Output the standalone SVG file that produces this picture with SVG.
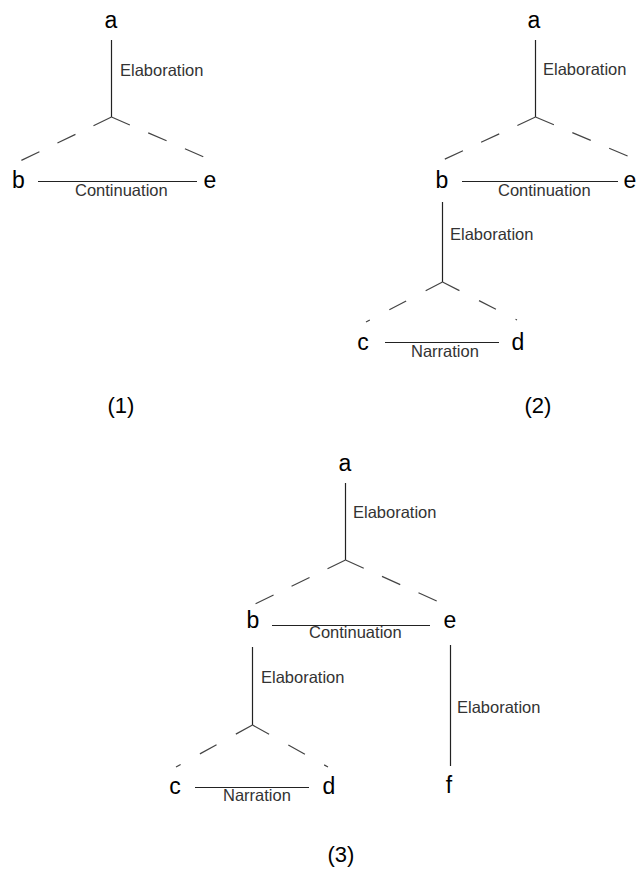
<svg xmlns="http://www.w3.org/2000/svg" width="638" height="879" viewBox="0 0 638 879">
<style>
.n{font-family:"Liberation Sans",Arial,sans-serif;font-size:23px;fill:#000;text-anchor:middle}
.l{font-family:"Liberation Sans",Arial,sans-serif;font-size:16.5px;fill:#333}
.cap{font-family:"Liberation Sans",Arial,sans-serif;font-size:22px;fill:#000;text-anchor:middle}
.e{stroke:#222;stroke-width:1.2;fill:none}
.d{stroke:#444;stroke-width:1.2;fill:none;stroke-dasharray:20 20}
</style>
<rect width="638" height="879" fill="#fff"/>
<g id="connectors">
  <!-- Diagram 1 -->
  <line class="e" x1="111.5" y1="40" x2="111.5" y2="117"/>
  <line class="d" x1="111.5" y1="117" x2="20" y2="161"/>
  <line class="d" x1="111.5" y1="117" x2="204" y2="157"/>
  <line class="e" x1="38" y1="181.5" x2="197" y2="181.5"/>
  <text class="l" x="120" y="76">Elaboration</text>
  <text class="l" x="75" y="196">Continuation</text>
  <!-- Diagram 2 -->
  <line class="e" x1="535.5" y1="40" x2="535.5" y2="117"/>
  <line class="d" x1="535.5" y1="117" x2="443" y2="160"/>
  <line class="d" x1="535.5" y1="117" x2="630" y2="157"/>
  <line class="e" x1="462" y1="181.5" x2="618" y2="181.5"/>
  <text class="l" x="543" y="75">Elaboration</text>
  <text class="l" x="498" y="196">Continuation</text>
  <line class="e" x1="442.5" y1="202" x2="442.5" y2="282"/>
  <line class="d" x1="442.5" y1="282" x2="366" y2="322" style="stroke-dasharray:19 22"/>
  <line class="d" x1="442.5" y1="282" x2="517" y2="320" style="stroke-dasharray:19 22"/>
  <line class="e" x1="385" y1="342.5" x2="499" y2="342.5"/>
  <text class="l" x="450" y="240">Elaboration</text>
  <text class="l" x="411" y="357">Narration</text>
  <!-- Diagram 3 -->
  <line class="e" x1="345.5" y1="483" x2="345.5" y2="560"/>
  <line class="d" x1="345.5" y1="560" x2="253" y2="605"/>
  <line class="d" x1="345.5" y1="560" x2="439" y2="602"/>
  <line class="e" x1="272" y1="625.5" x2="430" y2="625.5"/>
  <text class="l" x="353" y="518">Elaboration</text>
  <text class="l" x="309" y="638">Continuation</text>
  <line class="e" x1="252.5" y1="647" x2="252.5" y2="725"/>
  <line class="d" x1="252.5" y1="725" x2="176" y2="767" style="stroke-dasharray:19 22"/>
  <line class="d" x1="252.5" y1="725" x2="328" y2="767" style="stroke-dasharray:19 22"/>
  <line class="e" x1="195" y1="787.5" x2="309" y2="787.5"/>
  <text class="l" x="261" y="683">Elaboration</text>
  <text class="l" x="223" y="801">Narration</text>
  <line class="e" x1="450.5" y1="645" x2="450.5" y2="766"/>
  <text class="l" x="457" y="713">Elaboration</text>
</g>
<g id="d1-a"><text class="n" x="111" y="28">a</text></g>
<g id="d1-b"><text class="n" x="18.5" y="188">b</text></g>
<g id="d1-e"><text class="n" x="210" y="188">e</text></g>
<g id="d2-a"><text class="n" x="534" y="28">a</text></g>
<g id="d2-b"><text class="n" x="442" y="188">b</text></g>
<g id="d2-e"><text class="n" x="630" y="188">e</text></g>
<g id="d2-c"><text class="n" x="363" y="350">c</text></g>
<g id="d2-d"><text class="n" x="518" y="350">d</text></g>
<g id="d3-a"><text class="n" x="345" y="471">a</text></g>
<g id="d3-b"><text class="n" x="253" y="628">b</text></g>
<g id="d3-e"><text class="n" x="450" y="628">e</text></g>
<g id="d3-c"><text class="n" x="175" y="794">c</text></g>
<g id="d3-d"><text class="n" x="329" y="794">d</text></g>
<g id="d3-f"><text class="n" x="449" y="793">f</text></g>
<g id="captions">
  <text class="cap" x="121" y="413">(1)</text>
  <text class="cap" x="538" y="413">(2)</text>
  <text class="cap" x="341" y="862">(3)</text>
</g>
</svg>
